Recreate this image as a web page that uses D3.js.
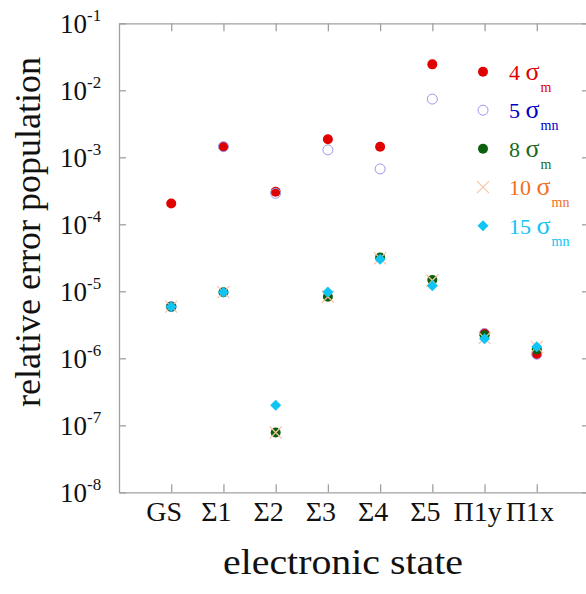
<!DOCTYPE html>
<html>
<head>
<meta charset="utf-8">
<script src="https://cdn.jsdelivr.net/npm/d3@7"></script>
<style>
  body { margin: 0; background: #fff; }
  svg text { font-family: "Liberation Serif", "Times New Roman", serif; }
</style>
</head>
<body>
<svg id="chart" width="586" height="594"></svg>
<script>
const categories = ["GS", "Σ1", "Σ2", "Σ3", "Σ4", "Σ5", "Π1y", "Π1x"];
const sigma4m = [2.05e-4, 1.44e-3, 3.07e-4, 1.86e-3, 1.44e-3, 2.44e-2, 2.35e-6, 1.15e-6];
const sigma5mn = [5.9e-6, 1.44e-3, 2.9e-4, 1.29e-3, 6.7e-4, 7.4e-3, 2.35e-6, 1.15e-6];
const sigma8m = [5.9e-6, 9.7e-6, 7.8e-8, 8.3e-6, 3.2e-5, 1.48e-5, 2.2e-6, 1.36e-6];
const sigma10mn = [5.9e-6, 9.7e-6, 7.8e-8, 8.3e-6, 3.1e-5, 1.45e-5, 2.0e-6, 1.48e-6];
const sigma15mn = [5.9e-6, 9.7e-6, 2.0e-7, 9.8e-6, 3.0e-5, 1.21e-5, 1.95e-6, 1.49e-6];
const yTicks = [1e-8, 1e-7, 1e-6, 1e-5, 1e-4, 1e-3, 1e-2, 1e-1];
const legendNums = ["4", "5", "8", "10", "15"];
const legendSubs = ["m", "mn", "m", "mn", "mn"];

const svg = d3.select("#chart");
const mLeft = 119, mRight = 589, mTop = 23.3, mBottom = 492.3;

let xScale = d3.scaleLinear().domain([0, 9]).range([mLeft, mRight]);
let yScale = d3.scaleLog().domain([1e-8, 1e-1]).range([mBottom, mTop]);

const axisColor = "#a0a0a0";
const catIdx = categories.map((c, i) => i + 1);

// axes (ticks pointing inward)
const gx = svg.append("g").attr("transform", "translate(0," + mBottom + ")")
  .call(d3.axisBottom(xScale).tickValues(catIdx).tickSize(-8).tickSizeOuter(0).tickFormat(""));
const gxt = svg.append("g").attr("transform", "translate(0," + mTop + ")")
  .call(d3.axisTop(xScale).tickValues(catIdx).tickSize(-8).tickSizeOuter(0).tickFormat(""));
const gy = svg.append("g").attr("transform", "translate(" + mLeft + ",0)")
  .call(d3.axisLeft(yScale).tickValues(yTicks).tickSize(-7).tickSizeOuter(0).tickFormat(""));
const gyr = svg.append("g").attr("transform", "translate(" + mRight + ",0)")
  .call(d3.axisRight(yScale).tickValues(yTicks).tickSize(-7).tickSizeOuter(0).tickFormat(""));

[gx, gxt, gy, gyr].forEach(g => {
  g.select(".domain").attr("stroke", axisColor).attr("stroke-width", 1.3);
  g.selectAll(".tick line").attr("stroke", axisColor).attr("stroke-width", 1.3);
});

// x tick labels
svg.append("g").selectAll("text").data(categories).join("text")
  .attr("x", (d, i) => xScale(i + 1) - 7)
  .attr("y", 521)
  .attr("text-anchor", "middle")
  .attr("font-size", 28)
  .attr("fill", "#111")
  .text(d => d);

// y tick labels 10^n
const yl = svg.append("g").selectAll("text").data(yTicks).join("text")
  .attr("x", 60)
  .attr("y", d => yScale(d) + 10)
  .attr("font-size", 27)
  .attr("fill", "#111");
yl.append("tspan").text("10");
yl.append("tspan").attr("dy", -12).attr("font-size", 17)
  .text(d => "-" + Math.round(-Math.log10(d)));

// axis titles
svg.append("text")
  .attr("transform", "translate(40,232) rotate(-90)")
  .attr("text-anchor", "middle")
  .attr("font-size", 36)
  .attr("fill", "#111")
  .text("relative error population");

svg.append("text")
  .attr("x", 343).attr("y", 574)
  .attr("text-anchor", "middle")
  .attr("font-size", 36)
  .attr("textLength", 240)
  .attr("lengthAdjust", "spacingAndGlyphs")
  .attr("fill", "#111")
  .text("electronic state");

// marker drawing helpers
const cols = { red: "#e00000", blue: "#9a9aee", green: "#0c5f0c", orange: "#f8c4a4", cyan: "#10c4f4" };
const diamondPath = (x, y, s) => `M${x},${y - s}L${x + s},${y}L${x},${y + s}L${x - s},${y}Z`;
const crossPath = (x, y, s) => `M${x - s},${y - s}L${x + s},${y + s}M${x - s},${y + s}L${x + s},${y - s}`;

function circles(vals, fill, stroke) {
  svg.append("g").selectAll("circle").data(vals).join("circle")
    .attr("cx", (d, i) => xScale(i + 1))
    .attr("cy", d => yScale(d))
    .attr("r", 5)
    .attr("fill", fill)
    .attr("stroke", stroke)
    .attr("stroke-width", 1);
}
function crosses(vals) {
  svg.append("g").selectAll("path").data(vals).join("path")
    .attr("d", (d, i) => crossPath(xScale(i + 1), yScale(d), 6))
    .attr("stroke", cols.orange).attr("stroke-width", 1.2).attr("fill", "none");
}
function diamonds(vals) {
  svg.append("g").selectAll("path").data(vals).join("path")
    .attr("d", (d, i) => diamondPath(xScale(i + 1), yScale(d), 5.5))
    .attr("fill", cols.cyan);
}

circles(sigma4m, cols.red, "none");
circles(sigma5mn, "none", cols.blue);
circles(sigma8m, cols.green, "none");
crosses(sigma10mn);
diamonds(sigma15mn);

// legend
const legendColors = ["#e00000", "#0000cc", "#1a6a1a", "#f07020", "#10c4f4"];
const ly = i => 71.7 + i * 38.5;
const lx = 483;
svg.append("circle").attr("cx", lx).attr("cy", ly(0)).attr("r", 5).attr("fill", cols.red);
svg.append("circle").attr("cx", lx).attr("cy", ly(1)).attr("r", 5).attr("fill", "none").attr("stroke", cols.blue);
svg.append("circle").attr("cx", lx).attr("cy", ly(2)).attr("r", 5).attr("fill", cols.green);
svg.append("path").attr("d", crossPath(lx, ly(3), 6))
  .attr("stroke", cols.orange).attr("stroke-width", 1.2);
svg.append("path").attr("d", diamondPath(lx, ly(4), 5.5)).attr("fill", cols.cyan);

const lt = svg.append("g").selectAll("text").data(legendNums).join("text")
  .attr("x", 509)
  .attr("y", (d, i) => ly(i) + 8)
  .attr("font-size", 22)
  .attr("fill", (d, i) => legendColors[i]);
lt.append("tspan").text(d => d + " ");
lt.append("tspan").attr("font-size", 26).text("σ");
lt.append("tspan").attr("dx", 1).attr("dy", 12).attr("font-size", 14)
  .text((d, i) => legendSubs[i]);
</script>
</body>
</html>
